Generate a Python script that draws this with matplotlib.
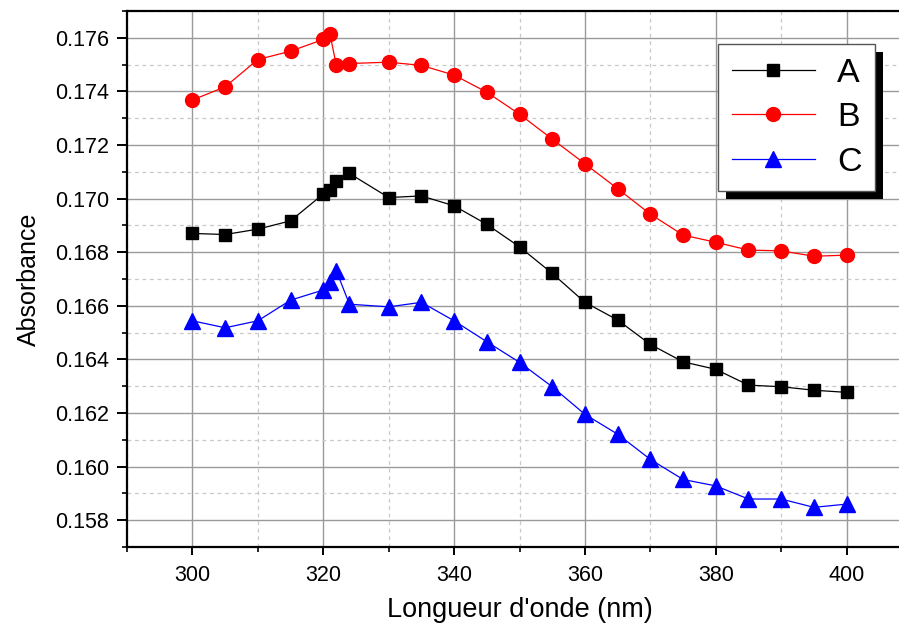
import matplotlib
matplotlib.use("Agg")
import matplotlib.pyplot as plt
from matplotlib.ticker import MultipleLocator, FormatStrFormatter
from matplotlib.patches import Rectangle
from matplotlib.transforms import IdentityTransform

plt.rcParams['font.family'] = ['Liberation Sans', 'DejaVu Sans']

wavelength = [300, 305, 310, 315, 320, 321, 322, 324, 330, 335, 340, 345, 350,
              355, 360, 365, 370, 375, 380, 385, 390, 395, 400]
series_A = [0.16870, 0.16866, 0.16886, 0.16917, 0.17017, 0.17032, 0.17066, 0.17094,
            0.17004, 0.17010, 0.16973, 0.16904, 0.16820, 0.16721, 0.16613, 0.16547,
            0.16456, 0.16391, 0.16363, 0.16304, 0.16298, 0.16285, 0.16277]
series_B = [0.17368, 0.17417, 0.17519, 0.17550, 0.17594, 0.17616, 0.17498, 0.17504,
            0.17509, 0.17497, 0.17461, 0.17397, 0.17315, 0.17222, 0.17130, 0.17037,
            0.16942, 0.16864, 0.16837, 0.16808, 0.16805, 0.16785, 0.16789]
series_C = [0.16544, 0.16518, 0.16544, 0.16621, 0.16659, 0.16690, 0.16731, 0.16606,
            0.16596, 0.16613, 0.16544, 0.16466, 0.16389, 0.16298, 0.16195, 0.16121,
            0.16027, 0.15952, 0.15928, 0.15879, 0.15879, 0.15848, 0.15860]
labels = ['A', 'B', 'C']
x_label = "Longueur d'onde (nm)"
y_label = "Absorbance"

W, H = 899, 625
fig = plt.figure(figsize=(W / 100, H / 100), dpi=100)
ax = fig.add_axes([127 / W, 78 / H, (912 - 127) / W, (547 - 11) / H])

ax.plot(wavelength, series_A, color='black', lw=0.9, marker='s', ms=8.5, label=labels[0], zorder=3)
ax.plot(wavelength, series_B, color='#ff0000', lw=0.9, marker='o', ms=10, label=labels[1], zorder=3)
ax.plot(wavelength, series_C, color='#0000ff', lw=0.9, marker='^', ms=12, label=labels[2], zorder=3)

ax.set_xlim(290, 410)
ax.set_ylim(0.157, 0.177)
ax.xaxis.set_major_locator(MultipleLocator(20))
ax.xaxis.set_minor_locator(MultipleLocator(10))
ax.yaxis.set_major_locator(MultipleLocator(0.002))
ax.yaxis.set_minor_locator(MultipleLocator(0.001))
ax.yaxis.set_major_formatter(FormatStrFormatter('%.3f'))

ax.grid(which='major', color='#9a9a9a', lw=1.0, ls='-', zorder=0)
ax.grid(which='minor', color='#c8c8c8', lw=0.9, ls=(0, (3, 3)), zorder=0)
ax.set_axisbelow(True)

for s in ['left', 'bottom', 'top']:
    ax.spines[s].set_linewidth(1.6)
ax.spines['right'].set_visible(False)

ax.tick_params(which='major', direction='out', length=6, width=1.4, labelsize=15.5, pad=7)
ax.tick_params(which='minor', direction='out', length=3.5, width=1.2)
ax.tick_params(axis='y', which='major', length=7, pad=6)

ax.set_xlabel(x_label, fontsize=19.5, labelpad=8)
ax.set_ylabel(y_label, fontsize=18, labelpad=10)

leg = ax.legend(loc='upper left', bbox_to_anchor=(718 / W, (H - 44) / H),
                bbox_transform=fig.transFigure, borderaxespad=0,
                fontsize=24.5, handlelength=2.45, handletextpad=0.65,
                labelspacing=0.4, borderpad=0.4, fancybox=False,
                frameon=True, framealpha=1.0, markerscale=1.0)
leg.get_frame().set_edgecolor('#555555')
leg.get_frame().set_linewidth(1.0)
leg.get_frame().set_facecolor('white')
leg.set_zorder(10)

fig.canvas.draw()
bb = leg.get_window_extent()
shadow = Rectangle((bb.x0 + 8, bb.y0 - 8), bb.width, bb.height,
                   transform=IdentityTransform(), facecolor='black',
                   edgecolor='none', zorder=9, clip_on=False)
ax.add_artist(shadow)

fig.savefig('out.png', dpi=100)
